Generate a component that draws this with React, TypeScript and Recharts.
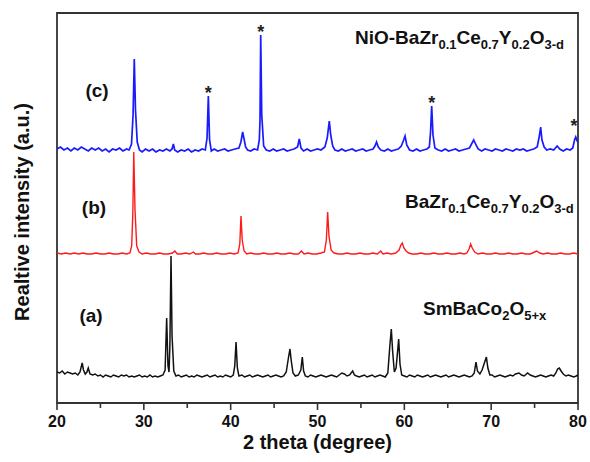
import React from "react";
import { Line, LineChart, ReferenceArea, ReferenceDot, XAxis, YAxis } from "recharts";

// 2-theta ticks
const X_TICKS = [20, 25, 30, 35, 40, 45, 50, 55, 60, 65, 70, 75, 80];
const MAJOR_TICKS = [20, 30, 40, 50, 60, 70, 80];

// vertical offsets of the stacked patterns (a.u.)
const OFFSET_A = 27;
const OFFSET_B = 149;
const OFFSET_C = 253;

// (a) SmBaCo2O5+x  [2theta, intensity]
const PATTERN_A: [number, number][] = [
  [20.0, 4], [20.3, 3], [20.6, 5], [20.9, 2], [21.2, 4], [21.5, 3], [21.8, 2], [22.1, 3],
  [22.4, 1], [22.65, 4], [22.9, 13], [23.05, 6], [23.25, 2], [23.45, 4], [23.6, 8], [23.8, 2],
  [24.1, 1], [24.4, 2], [24.7, 0], [25.0, 1], [25.3, -1], [25.6, 1], [25.9, 0], [26.2, -1],
  [26.5, 1], [26.8, 0], [27.1, -1], [27.4, 1], [27.7, 0], [28.0, 1], [28.3, -1], [28.6, 0],
  [28.9, -1], [29.2, 0], [29.5, 1], [29.8, -1], [30.1, 0], [30.4, -1], [30.7, 1], [31.0, -1],
  [31.3, 0], [31.6, -1], [31.9, 0], [32.2, 1], [32.45, 6], [32.63, 58], [32.78, 10], [32.9, 4],
  [33.0, 30], [33.13, 120], [33.25, 40], [33.45, 5], [33.7, 0], [34.0, 1], [34.3, -1], [34.6, 0],
  [34.9, 1], [35.2, -1], [35.5, 0], [35.8, -1], [36.1, 1], [36.4, 0], [36.7, -1], [37.0, 0],
  [37.3, 1], [37.6, -1], [37.9, 0], [38.2, 1], [38.5, -1], [38.8, 0], [39.1, -1], [39.4, 1],
  [39.7, 0], [40.0, -1], [40.3, 1], [40.47, 10], [40.62, 34], [40.77, 8], [40.95, 0], [41.3, 1],
  [41.6, -1], [41.9, 0], [42.2, 1], [42.5, -1], [42.8, 0], [43.1, 1], [43.4, 0], [43.7, -1],
  [44.0, 0], [44.3, 1], [44.6, -1], [44.9, 0], [45.2, 1], [45.5, 0], [45.8, -1], [46.1, 0],
  [46.4, 4], [46.65, 18], [46.83, 27], [46.98, 15], [47.18, 3], [47.45, 0], [47.8, 1], [48.08, 6],
  [48.25, 19], [48.4, 5], [48.6, 0], [48.9, -1], [49.2, 1], [49.5, 0], [49.8, -1], [50.1, 0],
  [50.4, 1], [50.7, 0], [51.0, -1], [51.3, 0], [51.6, 1], [51.9, 0], [52.2, -1], [52.5, 1],
  [52.8, 3], [53.1, 2], [53.4, 0], [53.7, 1], [54.05, 5], [54.25, 1], [54.5, 0], [54.8, -1],
  [55.1, 0], [55.4, 1], [55.7, -1], [56.0, 0], [56.3, 1], [56.6, -1], [56.9, 0], [57.2, 1],
  [57.5, 0], [57.8, -1], [58.1, 3], [58.33, 30], [58.5, 47], [58.65, 25], [58.85, 4], [59.05, 8],
  [59.35, 37], [59.5, 12], [59.7, 1], [60.0, 0], [60.3, -1], [60.6, 1], [60.9, 0], [61.2, -1],
  [61.5, 1], [61.8, 0], [62.1, -1], [62.4, 0], [62.7, 1], [63.0, -1], [63.3, 0], [63.6, 1],
  [63.9, 0], [64.2, -1], [64.5, 0], [64.8, 1], [65.1, -1], [65.4, 0], [65.7, 1], [66.0, 0],
  [66.3, -1], [66.6, 0], [66.9, 1], [67.2, 0], [67.5, -1], [67.8, 0], [68.05, 3], [68.25, 14],
  [68.42, 5], [68.7, 2], [68.95, 6], [69.18, 12], [69.45, 19], [69.62, 8], [69.85, 1], [70.1, 1],
  [70.4, -1], [70.7, 0], [71.0, 1], [71.3, 0], [71.6, -1], [71.9, 0], [72.2, 1], [72.5, 0],
  [72.8, 2], [73.2, 3], [73.5, 1], [73.8, 0], [74.2, 3], [74.5, 1], [74.8, 0], [75.1, -1],
  [75.4, 0], [75.7, 1], [76.0, 0], [76.3, -1], [76.6, 0], [76.9, 1], [77.2, 0], [77.45, 3],
  [77.65, 7], [77.85, 8], [78.05, 5], [78.3, 2], [78.6, 0], [78.9, 1], [79.2, 0], [79.5, -1],
  [79.8, 0], [80.0, 1],
];

// (b) BaZr0.1Ce0.7Y0.2O3-d
const PATTERN_B: [number, number][] = [
  [20.0, 1], [20.5, 0], [21.0, 1], [21.5, 0], [22.0, 1], [22.5, 0], [23.0, 1], [23.5, 0],
  [24.0, 0], [24.5, 1], [25.0, 0], [25.5, 0], [26.0, 1], [26.5, 0], [27.0, 0], [27.5, 1],
  [28.0, 0], [28.4, 1], [28.6, 8], [28.73, 40], [28.84, 102], [28.98, 45], [29.18, 8], [29.45, 2],
  [29.8, 0], [30.3, 1], [30.8, 0], [31.3, 0], [31.8, 1], [32.3, 0], [32.8, 0], [33.3, 1],
  [33.58, 3], [33.85, 0], [34.3, 0], [34.8, 1], [35.3, 0], [35.7, 2], [35.95, 0], [36.4, 0],
  [36.9, 1], [37.4, 0], [37.9, 0], [38.4, 1], [38.9, 0], [39.4, 0], [39.9, 1], [40.4, 0],
  [40.85, 1], [41.05, 10], [41.19, 38], [41.33, 14], [41.55, 3], [41.85, 0], [42.3, 1], [42.8, 0],
  [43.3, 0], [43.8, 1], [44.3, 0], [44.8, 0], [45.3, 1], [45.8, 0], [46.3, 0], [46.8, 1],
  [47.3, 0], [47.8, 0], [48.15, 3], [48.45, 0], [48.9, 1], [49.4, 0], [49.9, 0], [50.4, 1],
  [50.8, 2], [51.02, 14], [51.17, 42], [51.32, 18], [51.57, 4], [51.9, 1], [52.4, 0], [52.9, 0],
  [53.4, 1], [53.9, 0], [54.4, 0], [54.9, 1], [55.4, 0], [55.9, 0], [56.4, 1], [56.9, 0],
  [57.28, 3], [57.55, 0], [58.0, 1], [58.5, 0], [59.0, 1], [59.4, 4], [59.6, 9], [59.77, 11],
  [59.95, 6], [60.2, 3], [60.5, 1], [60.9, 0], [61.4, 0], [61.9, 1], [62.4, 0], [62.9, 0],
  [63.4, 1], [63.9, 0], [64.4, 0], [64.9, 1], [65.4, 0], [65.9, 0], [66.4, 1], [66.9, 0],
  [67.2, 1], [67.45, 5], [67.64, 10], [67.82, 6], [68.1, 2], [68.5, 0], [69.0, 1], [69.5, 0],
  [70.0, 0], [70.5, 1], [71.0, 0], [71.5, 0], [72.0, 1], [72.5, 0], [73.0, 0], [73.5, 1],
  [74.0, 0], [74.5, 0], [75.0, 2], [75.25, 3], [75.6, 1], [76.0, 0], [76.5, 1], [77.0, 0],
  [77.5, 0], [78.0, 1], [78.5, 0], [79.0, 0], [79.5, 1], [80.0, 0],
];

// (c) NiO-BaZr0.1Ce0.7Y0.2O3-d
const PATTERN_C: [number, number][] = [
  [20.0, 1], [20.4, 3], [20.8, 0], [21.2, 2], [21.6, -1], [22.0, 2], [22.4, 0], [22.8, 3],
  [23.2, 1], [23.6, -1], [24.0, 2], [24.4, 0], [24.8, 2], [25.2, -1], [25.6, 1], [26.0, -2],
  [26.4, 1], [26.8, 0], [27.2, 2], [27.6, -1], [28.0, 1], [28.3, 0], [28.58, 6], [28.76, 35],
  [28.9, 91], [29.04, 40], [29.24, 8], [29.5, 0], [29.8, -2], [30.2, 1], [30.6, -1], [31.0, 1],
  [31.4, -2], [31.8, 0], [32.2, -1], [32.6, 1], [33.0, -1], [33.25, 1], [33.4, 6], [33.55, 0],
  [33.9, -2], [34.3, 0], [34.7, -1], [35.1, 1], [35.5, -2], [35.9, 0], [36.3, -1], [36.7, 1],
  [37.08, 0], [37.28, 12], [37.43, 54], [37.57, 10], [37.77, -1], [38.1, 1], [38.5, -1], [38.9, 0],
  [39.3, 1], [39.7, -1], [40.1, 0], [40.5, 1], [40.95, 2], [41.18, 8], [41.38, 18], [41.52, 12],
  [41.72, 3], [41.95, 0], [42.3, -1], [42.7, 1], [43.1, 0], [43.3, 10], [43.38, 30], [43.46, 115],
  [43.58, 35], [43.8, 4], [44.1, 0], [44.5, -1], [44.9, 1], [45.3, -1], [45.7, 0], [46.1, 1],
  [46.5, -1], [46.9, 0], [47.3, 1], [47.7, 3], [47.9, 11], [48.1, 2], [48.4, -1], [48.8, 1],
  [49.2, -1], [49.6, 0], [50.0, 1], [50.4, 0], [50.85, 3], [51.12, 12], [51.36, 29], [51.52, 15],
  [51.75, 4], [52.0, 0], [52.4, -1], [52.8, 1], [53.2, -1], [53.6, 0], [54.0, 1], [54.4, -1],
  [54.8, 0], [55.2, 1], [55.6, -1], [56.0, 0], [56.4, 1], [56.62, 4], [56.8, 8], [57.0, 3],
  [57.3, 0], [57.7, -1], [58.1, 1], [58.5, -1], [58.9, 0], [59.3, 1], [59.65, 4], [59.92, 10],
  [60.08, 14], [60.28, 5], [60.6, 0], [61.0, -1], [61.4, 1], [61.8, -1], [62.2, 0], [62.6, 1],
  [62.88, 3], [63.02, 18], [63.15, 44], [63.3, 15], [63.52, 2], [63.9, 0], [64.3, -1], [64.7, 1],
  [65.1, -1], [65.5, 0], [65.9, 1], [66.3, -1], [66.7, 0], [67.1, 1], [67.5, 2], [67.8, 7],
  [67.99, 10], [68.2, 6], [68.5, 1], [68.9, -1], [69.3, 1], [69.7, 0], [70.1, -1], [70.5, 1],
  [70.9, 0], [71.3, -1], [71.7, 1], [72.1, 0], [72.5, -1], [72.9, 1], [73.3, 0], [73.7, 1],
  [74.1, -1], [74.5, 0], [74.9, 1], [75.3, 3], [75.55, 14], [75.7, 23], [75.85, 10], [76.1, 3],
  [76.4, 0], [76.8, 1], [77.2, 0], [77.6, 4], [77.9, 1], [78.3, -1], [78.7, 1], [79.1, 0],
  [79.4, 2], [79.6, 10], [79.74, 13], [79.9, 9], [80.0, 8],
];

// peaks of (c) marked with an asterisk: [2theta, intensity of the peak top]
const STARS_C: [number, number][] = [
  [37.43, 54],
  [43.46, 115],
  [63.15, 44],
  [79.55, 21],
];

const LABEL_A = "(a)";
const LABEL_B = "(b)";
const LABEL_C = "(c)";
// chemical formulas as [text, isSubscript]
const FORMULA_A: [string, boolean][] = [["SmBaCo", false], ["2", true], ["O", false], ["5+x", true]];
const FORMULA_B: [string, boolean][] = [
  ["BaZr", false], ["0.1", true], ["Ce", false], ["0.7", true], ["Y", false], ["0.2", true], ["O", false], ["3-d", true],
];
const FORMULA_C: [string, boolean][] = [["NiO-", false], ...FORMULA_B];

const X_TITLE = "2 theta (degree)";
const Y_TITLE = "Realtive intensity (a.u.)";

const FONT = '"Liberation Sans", Arial, Helvetica, sans-serif';
const INK = "#111";

const toRows = (pattern: [number, number][], offset: number) =>
  pattern.map(([x, y]) => ({ x, y: y + offset }));

const dataA = toRows(PATTERN_A, OFFSET_A);
const dataB = toRows(PATTERN_B, OFFSET_B);
const dataC = toRows(PATTERN_C, OFFSET_C);

function XTick(props: any) {
  const { x, y, payload } = props;
  const major = MAJOR_TICKS.includes(payload.value);
  return (
    <g>
      <line x1={x} x2={x} y1={y} y2={y + (major ? 7 : 5)} stroke="#333" strokeWidth={1.6} />
      {major && (
        <text x={x} y={y + 24} textAnchor="middle" fontSize={16} fontWeight="bold" fill={INK} fontFamily={FONT}>
          {payload.value}
        </text>
      )}
    </g>
  );
}

function Star(props: any) {
  return (
    <text x={props.cx} y={props.cy + 3} textAnchor="middle" fontSize={18} fontWeight="bold" fill="#222" fontFamily={FONT}>
      *
    </text>
  );
}

function Formula({ x, y, parts }: { x: number; y: number; parts: [string, boolean][] }) {
  let prevSub = false;
  return (
    <text x={x} y={y} fontSize={19} fontWeight="bold" fill={INK} fontFamily={FONT}>
      {parts.map(([t, sub], i) => {
        const dy = (sub ? 5 : 0) - (prevSub ? 5 : 0);
        prevSub = sub;
        return (
          <tspan key={i} dy={dy} fontSize={sub ? 13 : 19}>
            {t}
          </tspan>
        );
      })}
    </text>
  );
}

export default function App() {
  return (
    <div style={{ position: "absolute", left: 0, top: 0, width: 590, height: 462, background: "#fff" }}>
      <LineChart width={590} height={462} margin={{ top: 13, right: 12, bottom: 29, left: 57 }}>
        <XAxis
          dataKey="x"
          type="number"
          domain={[20, 80]}
          ticks={X_TICKS}
          interval={0}
          allowDataOverflow
          height={30}
          tickSize={0}
          tickMargin={0}
          tickLine={false}
          axisLine={{ stroke: "#333", strokeWidth: 1.8 }}
          tick={<XTick />}
        />
        <YAxis type="number" domain={[0, 390]} hide allowDataOverflow />
        <ReferenceArea x1={20} x2={80} y1={0} y2={390} fill="none" fillOpacity={0} stroke="#333" strokeWidth={1.8} />
        <Line data={dataA} dataKey="y" type="linear" stroke="#111" strokeWidth={1.5} dot={false} isAnimationActive={false} />
        <Line data={dataB} dataKey="y" type="linear" stroke="#ff1a1a" strokeWidth={1.4} dot={false} isAnimationActive={false} />
        <Line data={dataC} dataKey="y" type="linear" stroke="#1a1aff" strokeWidth={1.7} dot={false} isAnimationActive={false} />
        {STARS_C.map(([x, h]) => (
          <ReferenceDot key={x} x={x} y={h + OFFSET_C} r={0} shape={<Star />} />
        ))}
      </LineChart>
      <svg width={590} height={462} style={{ position: "absolute", left: 0, top: 0, pointerEvents: "none" }}>
        <text x={97} y={97} textAnchor="middle" fontSize={19} fontWeight="bold" fill={INK} fontFamily={FONT}>{LABEL_C}</text>
        <text x={94} y={214} textAnchor="middle" fontSize={19} fontWeight="bold" fill={INK} fontFamily={FONT}>{LABEL_B}</text>
        <text x={91} y={322} textAnchor="middle" fontSize={19} fontWeight="bold" fill={INK} fontFamily={FONT}>{LABEL_A}</text>
        <Formula x={355} y={44} parts={FORMULA_C} />
        <Formula x={405} y={208} parts={FORMULA_B} />
        <Formula x={423} y={315} parts={FORMULA_A} />
        <text x={317.5} y={449} textAnchor="middle" fontSize={20} fontWeight="bold" fill={INK} fontFamily={FONT}>{X_TITLE}</text>
        <text
          x={29}
          y={212}
          transform="rotate(-90 29 212)"
          textAnchor="middle"
          fontSize={20}
          fontWeight="bold"
          fill={INK}
          fontFamily={FONT}
        >
          {Y_TITLE}
        </text>
      </svg>
    </div>
  );
}
